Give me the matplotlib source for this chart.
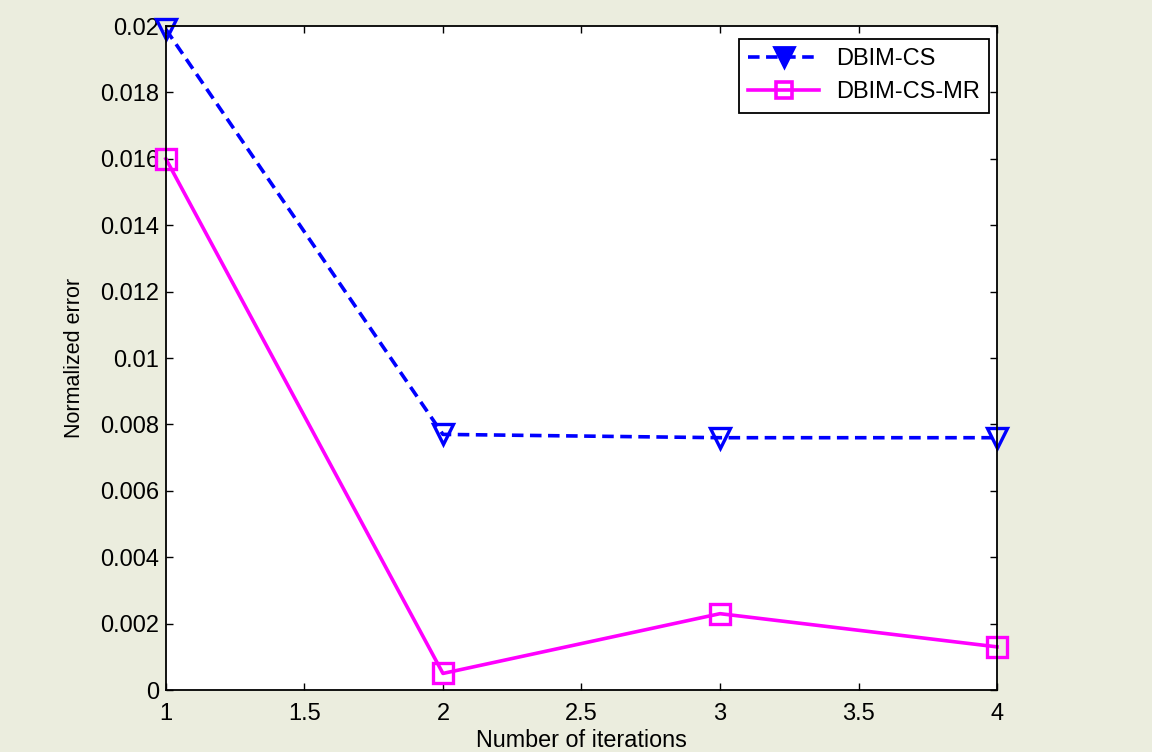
import matplotlib
matplotlib.use("Agg")
import matplotlib.pyplot as plt
from matplotlib.lines import Line2D

iterations = [1, 2, 3, 4]
dbim_cs = [0.0199, 0.0077, 0.0076, 0.0076]
dbim_cs_mr = [0.0160, 0.0005, 0.0023, 0.0013]
xticks = [1, 1.5, 2, 2.5, 3, 3.5, 4]
yticks = [0, 0.002, 0.004, 0.006, 0.008, 0.01, 0.012, 0.014, 0.016, 0.018, 0.02]
ytick_labels = ["0", "0.002", "0.004", "0.006", "0.008", "0.01", "0.012",
                "0.014", "0.016", "0.018", "0.02"]

plt.rcParams["font.family"] = ["Liberation Sans", "DejaVu Sans"]

fig = plt.figure(figsize=(11.52, 7.52), dpi=100, facecolor="#ebedde")
ax = fig.add_axes([0.144, 0.0824, 0.7215, 0.883])

ax.plot(iterations, dbim_cs, color="#0000ff", linestyle="--", dashes=(3.2, 1.8),
        linewidth=2.6, marker="v", markersize=15, markerfacecolor="none",
        markeredgewidth=2.4, clip_on=False)
ax.plot(iterations, dbim_cs_mr, color="#ff00ff", linestyle="-",
        linewidth=2.6, marker="s", markersize=14, markerfacecolor="none",
        markeredgewidth=2.4, clip_on=False)

ax.set_xlim(1, 4)
ax.set_ylim(0, 0.02)
ax.set_xticks(xticks)
ax.set_xticklabels([str(t) for t in xticks])
ax.set_yticks(yticks)
ax.set_yticklabels(ytick_labels)
ax.tick_params(direction="in", top=True, right=True, labelsize=17,
               length=5, width=1, pad=9)
ax.tick_params(axis="y", pad=5)
for s in ax.spines.values():
    s.set_linewidth(1.3)

ax.set_xlabel("Number of iterations", fontsize=16.8, labelpad=3)
ax.set_ylabel("Normalized error", fontsize=15.5, labelpad=11)

handles = [
    Line2D([], [], color="#0000ff", linestyle="--", dashes=(3.2, 1.8), linewidth=2.6,
           marker="v", markersize=15, markerfacecolor="#0000ff", markeredgewidth=2),
    Line2D([], [], color="#ff00ff", linestyle="-", linewidth=2.6,
           marker="s", markersize=12, markerfacecolor="none", markeredgewidth=2.6),
]
leg = ax.legend(handles, ["DBIM-CS", "DBIM-CS-MR"], loc="upper right",
                bbox_to_anchor=(0.9904, 0.9804), borderaxespad=0,
                fontsize=17, fancybox=False, framealpha=1, edgecolor="black",
                borderpad=0.4, handlelength=3.0,
                handletextpad=0.7, labelspacing=0.45)
leg.get_frame().set_linewidth(1.3)

fig.savefig("out.png", dpi=100, facecolor=fig.get_facecolor())
